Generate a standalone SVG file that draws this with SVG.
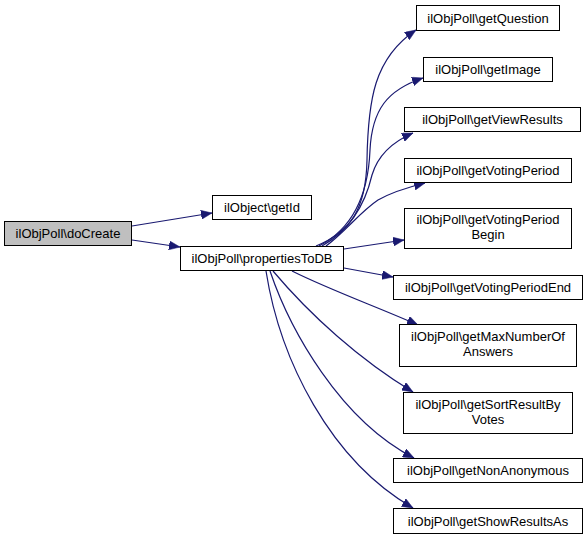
<svg xmlns="http://www.w3.org/2000/svg" width="588" height="540" viewBox="0 0 588 540">
<style>
.n rect{fill:#ffffff;stroke:#000000;stroke-width:1}
.n text{font-family:"Liberation Sans",Arial,sans-serif;font-size:13px;fill:#000000;text-anchor:middle}
#doCreate rect{fill:#bfbfbf}
.e path{fill:none;stroke:#191970;stroke-width:1.2}
</style>
<defs>
<marker id="ah" markerUnits="userSpaceOnUse" markerWidth="12" markerHeight="9" refX="11" refY="4.5" orient="auto">
<path d="M0,0 L11,4.5 L0,9 z" fill="#191970" stroke="#191970" stroke-width="0.5"/>
</marker>
</defs>
<rect width="588" height="540" fill="#ffffff"/>
<g id="edges" class="e">
<path marker-end="url(#ah)" d="M132,226 L212,213"/>
<path marker-end="url(#ah)" d="M132,240 L180,247"/>
<path marker-end="url(#ah)" d="M316,246 C350,232 366,210 367,160 C368,100 374,58 416,30"/>
<path marker-end="url(#ah)" d="M319,246 C350,230 368,200 370,150 C372,110 387,90 423,78"/>
<path marker-end="url(#ah)" d="M322,246 C350,230 365,205 372,175 C378,155 392,142 413,133"/>
<path marker-end="url(#ah)" d="M326,246 C345,232 360,212 378,200 C392,192 405,188 425,183"/>
<path marker-end="url(#ah)" d="M344,249 L404,240"/>
<path marker-end="url(#ah)" d="M344,268 L393,277"/>
<path marker-end="url(#ah)" d="M292,271 C330,290 380,308 418,325"/>
<path marker-end="url(#ah)" d="M273,271 C310,315 360,360 413,392"/>
<path marker-end="url(#ah)" d="M270,271 C290,330 340,420 414,458"/>
<path marker-end="url(#ah)" d="M266,271 C280,360 330,460 413,508"/>
</g>
<g id="doCreate" class="n"><rect x="4.5" y="221.5" width="127" height="24"/><text x="68" y="238">ilObjPoll\doCreate</text></g>
<g id="getId" class="n"><rect x="212.5" y="195.5" width="99" height="24"/><text x="262" y="212">ilObject\getId</text></g>
<g id="propertiesToDB" class="n"><rect x="180.5" y="246.5" width="163" height="24"/><text x="262" y="263">ilObjPoll\propertiesToDB</text></g>
<g id="getQuestion" class="n"><rect x="416.5" y="5.5" width="143" height="25"/><text x="488" y="22.5">ilObjPoll\getQuestion</text></g>
<g id="getImage" class="n"><rect x="423.5" y="57.5" width="129" height="24"/><text x="488" y="74">ilObjPoll\getImage</text></g>
<g id="getViewResults" class="n"><rect x="404.5" y="107.5" width="176" height="24"/><text x="492.5" y="124">ilObjPoll\getViewResults</text></g>
<g id="getVotingPeriod" class="n"><rect x="404.5" y="158.5" width="167" height="24"/><text x="488" y="175">ilObjPoll\getVotingPeriod</text></g>
<g id="getVotingPeriodBegin" class="n"><rect x="404.5" y="208.5" width="167" height="40"/><text x="488" y="224">ilObjPoll\getVotingPeriod</text><text x="488" y="239">Begin</text></g>
<g id="getVotingPeriodEnd" class="n"><rect x="393.5" y="275.5" width="189" height="24"/><text x="488" y="292">ilObjPoll\getVotingPeriodEnd</text></g>
<g id="getMaxNumberOfAnswers" class="n"><rect x="399.5" y="324.5" width="177" height="42"/><text x="488" y="341">ilObjPoll\getMaxNumberOf</text><text x="488" y="356">Answers</text></g>
<g id="getSortResultByVotes" class="n"><rect x="403.5" y="392.5" width="169" height="41"/><text x="488" y="409">ilObjPoll\getSortResultBy</text><text x="488" y="424">Votes</text></g>
<g id="getNonAnonymous" class="n"><rect x="393.5" y="458.5" width="189" height="24"/><text x="488" y="475">ilObjPoll\getNonAnonymous</text></g>
<g id="getShowResultsAs" class="n"><rect x="393.5" y="508.5" width="189" height="25"/><text x="488" y="526">ilObjPoll\getShowResultsAs</text></g>
</svg>
